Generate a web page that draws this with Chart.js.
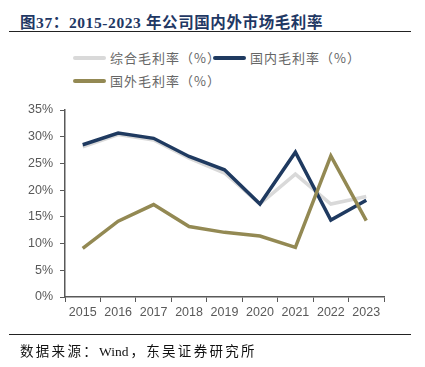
<!DOCTYPE html>
<html>
<head>
<meta charset="utf-8">
<script src="https://cdn.jsdelivr.net/npm/chart.js@4"></script>
<style>
  body { margin: 0; background: #fff; }
  #wrap { position: relative; width: 425px; height: 367px; overflow: hidden; }
  #title { position: absolute; left: 20px; top: 10px; font: bold 15.5px "Liberation Serif", "Noto Sans CJK SC"; color: #1f3864; white-space: nowrap; letter-spacing: 0.6px; }
  .rule { position: absolute; left: 9px; width: 402px; height: 0; border-top: 1.5px solid #222; }
  .leg { position: absolute; font: 13px "Noto Sans CJK SC"; color: #666; white-space: nowrap; }
  .leg i { position: absolute; left: 0; top: 8px; width: 33px; height: 4px; border-radius: 2px; }
  .leg span { position: absolute; left: 37px; top: 0; line-height: 20px; letter-spacing: 1px; }
  #src { position: absolute; left: 20px; top: 340px; font: 13.5px "Liberation Serif", "Noto Sans CJK SC"; color: #111; white-space: nowrap; letter-spacing: 2.3px; }
  #src b { font-weight: normal; letter-spacing: 0; margin-right: 2px; }
  canvas { position: absolute; left: 0; top: 0; }
</style>
</head>
<body>
<div id="wrap">
  <div id="title">图37：2015-2023 年公司国内外市场毛利率</div>
  <div class="rule" style="top:31px"></div>
  <div id="legend"></div>
  <canvas id="c" width="425" height="367"></canvas>
  <div class="rule" style="top:334px"></div>
  <div id="src">数据来源：<b>Wind</b>，东吴证券研究所</div>
</div>
<script>
// years on the x axis
var years = ['2015', '2016', '2017', '2018', '2019', '2020', '2021', '2022', '2023'];
// gross margin, %
var totalMargin = [28.1, 30.4, 29.4, 26.0, 23.2, 17.4, 23.0, 17.4, 18.8];
var domesticMargin = [28.5, 30.7, 29.7, 26.3, 23.8, 17.4, 27.1, 14.4, 18.1];
var overseasMargin = [9.1, 14.2, 17.3, 13.2, 12.1, 11.4, 9.3, 26.4, 14.3];
var seriesNames = ['综合毛利率（%）', '国内毛利率（%）', '国外毛利率（%）'];
var seriesColors = ['#d9d9d9', '#1f3a60', '#938953'];
var yTicks = [0, 5, 10, 15, 20, 25, 30, 35];

// legend placed like the original (two rows, left aligned)
var legendSpots = [[73, 48], [213, 48], [73, 71]];
var legendBox = document.getElementById('legend');
seriesNames.forEach(function (name, i) {
  var d = document.createElement('div');
  d.className = 'leg';
  d.style.left = legendSpots[i][0] + 'px';
  d.style.top = legendSpots[i][1] + 'px';
  d.innerHTML = '<i style="background:' + seriesColors[i] + '"></i><span>' + name + '</span>';
  legendBox.appendChild(d);
});

var axisColor = '#595959';
var values = [totalMargin, domesticMargin, overseasMargin];

new Chart(document.getElementById('c'), {
  type: 'line',
  data: {
    labels: years,
    datasets: values.map(function (v, i) {
      return {
        label: seriesNames[i],
        data: v,
        borderColor: seriesColors[i],
        backgroundColor: seriesColors[i],
        borderWidth: 3.5,
        pointRadius: 0,
        tension: 0,
        fill: false,
        order: 3 - i  // composite at the bottom
      };
    })
  },
  options: {
    responsive: false,
    animation: false,
    layout: { padding: { left: 0, right: 41, top: 110, bottom: 40 } },
    plugins: { legend: { display: false }, tooltip: { enabled: false } },
    scales: {
      x: {
        offset: true,
        grid: { display: true, offset: true, drawOnChartArea: false, drawTicks: true, tickLength: 5, color: axisColor },
        border: { display: true, color: axisColor, width: 1.5 },
        ticks: { color: axisColor, font: { family: 'Liberation Sans', size: 12.5 }, padding: 3, maxRotation: 0 },
        afterFit: function (s) { s.height = 30; }
      },
      y: {
        min: 0,
        max: 35,
        afterBuildTicks: function (s) { s.ticks = yTicks.map(function (v) { return { value: v }; }); },
        grid: { display: true, drawOnChartArea: false, drawTicks: true, tickLength: 5, color: axisColor },
        border: { display: true, color: axisColor, width: 1.5 },
        ticks: {
          color: axisColor,
          font: { family: 'Liberation Sans', size: 12.5 },
          padding: 7,
          callback: function (v) { return v + '%'; }
        },
        afterFit: function (s) { s.width = 65; }
      }
    }
  }
});
</script>
</body>
</html>
